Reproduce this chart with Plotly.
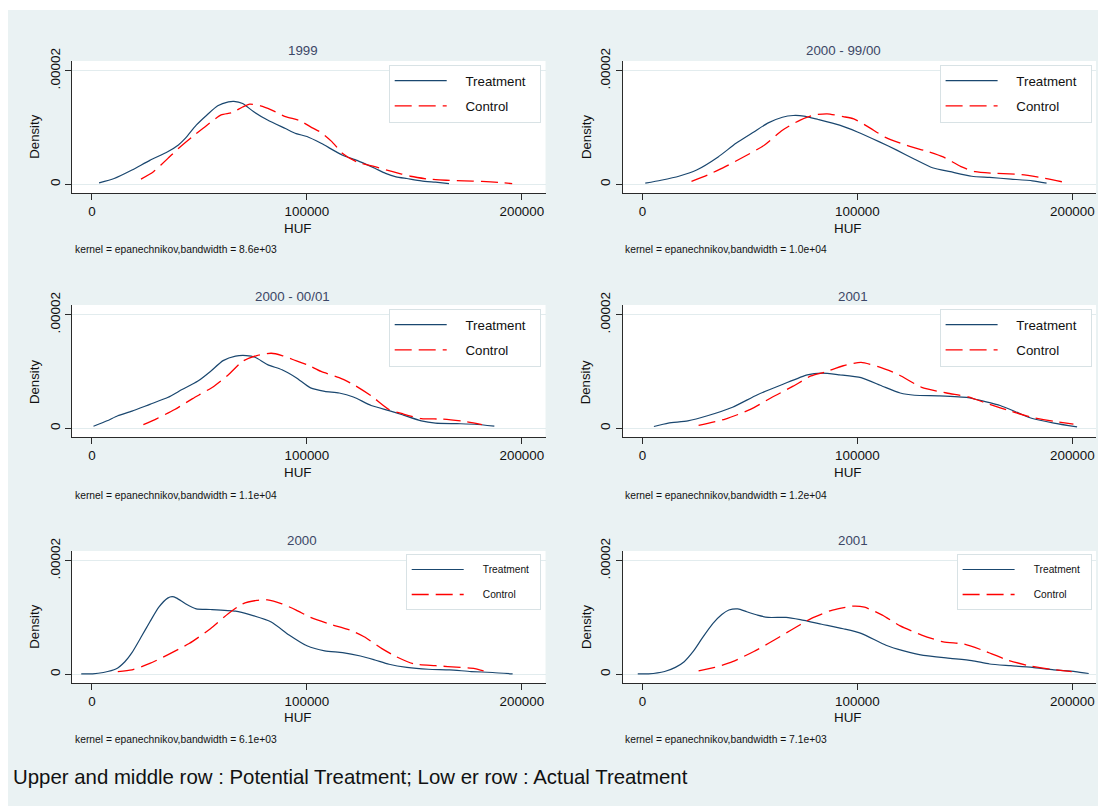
import plotly.graph_objects as go

W, H = 1098, 806

# ---------------- data ----------------
panel_titles = ["1999", "2000 - 99/00", "2000 - 00/01", "2001", "2000", "2001"]
bandwidths = ["8.6e+03", "1.0e+04", "1.1e+04", "1.2e+04", "6.1e+03", "7.1e+03"]
series_names = ["Treatment", "Control"]
x_tickvals = [0, 100000, 200000]
x_ticktext = ["0", "100000", "200000"]
y_tickvals = [0, 0.00002]
y_ticktext = ["0", ".00002"]
x_title = "HUF"
y_title = "Density"
footnote = "Upper and middle row : Potential Treatment; Low er row : Actual Treatment"

# Panel 1: 1999
p1_treat_x = [3300, 10300, 18600, 26900, 35200, 40200, 43500, 48500, 53500, 58500, 63500, 66000,
              70100, 75100, 81700, 90000, 95000, 100000, 106600, 116600, 123300, 131600, 136600,
              141500, 146500, 153200, 159800, 166100]
p1_treat_y = [0.24e-6, 1.0e-6, 2.5e-6, 4.2e-6, 5.7e-6, 6.9e-6, 8.1e-6, 10.4e-6, 12.2e-6, 13.8e-6,
              14.5e-6, 14.6e-6, 14.2e-6, 12.8e-6, 11.3e-6, 9.8e-6, 8.9e-6, 8.4e-6, 7.2e-6, 5.1e-6,
              4.2e-6, 2.8e-6, 1.9e-6, 1.3e-6, 1.0e-6, 0.6e-6, 0.35e-6, 0.1e-6]
p1_ctrl_x = [22800, 28600, 35200, 40200, 46800, 53500, 60100, 65100, 70100, 73400, 78400, 83400,
             90000, 96700, 101700, 106600, 111600, 116600, 123300, 131600, 139900, 148200, 156500,
             164800, 173100, 181400, 189700, 195500]
p1_ctrl_y = [0.9e-6, 2.2e-6, 4.5e-6, 6.3e-6, 8.4e-6, 10.4e-6, 12.2e-6, 12.6e-6, 13.6e-6, 14.1e-6,
             13.8e-6, 13.1e-6, 11.9e-6, 11.2e-6, 10.1e-6, 9.1e-6, 7.5e-6, 5.4e-6, 3.9e-6, 3.1e-6,
             2.2e-6, 1.4e-6, 0.9e-6, 0.7e-6, 0.6e-6, 0.5e-6, 0.3e-6, 0.1e-6]

# Panel 2: 2000 - 99/00
p2_treat_x = [1300, 8600, 16900, 25200, 35200, 43500, 51800, 58500, 65100, 70100, 75100, 81700,
              91700, 100000, 110000, 118300, 126600, 134900, 143200, 153200, 161500, 171400,
              181400, 188000]
p2_treat_y = [0.18e-6, 0.7e-6, 1.4e-6, 2.5e-6, 4.8e-6, 7.2e-6, 9.2e-6, 10.8e-6, 11.8e-6, 12.1e-6,
              12.0e-6, 11.4e-6, 10.4e-6, 9.2e-6, 7.5e-6, 6.0e-6, 4.4e-6, 2.9e-6, 2.2e-6, 1.4e-6,
              1.2e-6, 0.9e-6, 0.6e-6, 0.18e-6]
p2_ctrl_x = [22800, 30200, 38500, 48500, 56800, 65100, 73400, 80100, 85900, 93400, 98300, 105000,
             113300, 123300, 133200, 139900, 148200, 154800, 164800, 176400, 186400, 195500]
p2_ctrl_y = [0.5e-6, 1.6e-6, 3.1e-6, 5.1e-6, 6.9e-6, 9.5e-6, 11.3e-6, 12.2e-6, 12.4e-6, 11.9e-6,
             11.5e-6, 10.1e-6, 8.2e-6, 6.8e-6, 5.7e-6, 4.8e-6, 3.1e-6, 2.2e-6, 1.9e-6, 1.7e-6,
             1.1e-6, 0.4e-6]

# Panel 3: 2000 - 00/01
p3_treat_x = [700, 7000, 12000, 18600, 26900, 35200, 41900, 49300, 55100, 61000, 66800, 71800,
              75900, 81700, 88400, 95000, 101700, 108300, 115000, 121600, 129900, 138200, 144900,
              153200, 159800, 169800, 178100, 187200]
p3_treat_y = [0.35e-6, 1.3e-6, 2.2e-6, 3.0e-6, 4.2e-6, 5.4e-6, 6.8e-6, 8.3e-6, 10.0e-6, 11.9e-6,
              12.7e-6, 12.8e-6, 12.5e-6, 11.2e-6, 10.3e-6, 8.9e-6, 7.1e-6, 6.5e-6, 6.2e-6, 5.5e-6,
              4.0e-6, 3.1e-6, 2.3e-6, 1.3e-6, 0.9e-6, 0.8e-6, 0.7e-6, 0.35e-6]
p3_ctrl_x = [23900, 30200, 38500, 46800, 56800, 63500, 70100, 76700, 83400, 88400, 93400, 100000,
             106600, 115000, 121600, 129900, 138200, 144900, 153200, 163100, 173100, 181400]
p3_ctrl_y = [0.64e-6, 1.7e-6, 3.3e-6, 5.2e-6, 7.4e-6, 9.4e-6, 11.8e-6, 12.8e-6, 13.2e-6, 12.8e-6,
             12.1e-6, 11.2e-6, 10.0e-6, 8.9e-6, 7.7e-6, 5.7e-6, 3.3e-6, 2.5e-6, 1.7e-6, 1.6e-6,
             1.2e-6, 0.64e-6]

# Panel 4: 2001 (potential)
p4_treat_x = [5300, 12000, 21100, 30200, 41900, 53500, 65100, 76700, 83400, 91700, 101700, 111600,
              119900, 126600, 138200, 151500, 158100, 166400, 174800, 181400, 191400, 202200]
p4_treat_y = [0.3e-6, 0.9e-6, 1.3e-6, 2.2e-6, 3.7e-6, 5.9e-6, 7.7e-6, 9.4e-6, 9.7e-6, 9.4e-6,
              8.9e-6, 7.4e-6, 6.2e-6, 5.8e-6, 5.7e-6, 5.4e-6, 4.8e-6, 4.0e-6, 2.7e-6, 1.7e-6,
              0.9e-6, 0.23e-6]
p4_ctrl_x = [26100, 38500, 50200, 60100, 70100, 78400, 85000, 93400, 101700, 110000, 118300,
             129900, 141500, 151500, 161500, 171400, 181400, 191400, 200500]
p4_ctrl_y = [0.5e-6, 1.6e-6, 3.3e-6, 5.4e-6, 7.4e-6, 9.2e-6, 9.9e-6, 11.0e-6, 11.6e-6, 10.8e-6,
             9.6e-6, 7.2e-6, 6.2e-6, 5.5e-6, 4.2e-6, 3.0e-6, 1.9e-6, 1.2e-6, 0.7e-6]

# Panel 5: 2000 (actual)
p5_treat_x = [-5000, 300, 5300, 11100, 15300, 18600, 22800, 26900, 31100, 35200, 37300, 39400,
              43500, 48500, 55100, 66800, 73400, 83400, 91700, 100000, 108300, 116600, 124900,
              131600, 138200, 146500, 156500, 166400, 176400, 186400, 195700]
p5_treat_y = [0.06e-6, 0.06e-6, 0.3e-6, 0.9e-6, 2.2e-6, 3.8e-6, 6.5e-6, 9.2e-6, 11.8e-6, 13.4e-6,
              13.65e-6, 13.4e-6, 12.4e-6, 11.5e-6, 11.4e-6, 11.1e-6, 10.5e-6, 9.2e-6, 6.9e-6,
              5.0e-6, 4.1e-6, 3.8e-6, 3.2e-6, 2.5e-6, 1.75e-6, 1.2e-6, 0.87e-6, 0.76e-6, 0.47e-6,
              0.3e-6, 0.06e-6]
p5_ctrl_x = [12000, 18600, 26900, 35200, 45200, 55100, 63500, 70100, 76700, 81700, 88400, 95000,
             101700, 110000, 119900, 126600, 134900, 141500, 149800, 159800, 171400, 178100, 182200]
p5_ctrl_y = [0.47e-6, 0.76e-6, 1.9e-6, 3.4e-6, 5.4e-6, 8.0e-6, 10.7e-6, 12.4e-6, 13.0e-6, 13.1e-6,
             12.4e-6, 11.3e-6, 10.0e-6, 8.9e-6, 7.8e-6, 6.6e-6, 4.5e-6, 3.1e-6, 1.8e-6, 1.5e-6,
             1.2e-6, 1.0e-6, 0.6e-6]

# Panel 6: 2001 (actual)
p6_treat_x = [-2200, 2800, 10300, 15300, 19400, 23600, 27700, 32700, 36900, 40200, 44400, 48500,
              53500, 58500, 66800, 73400, 83400, 93400, 101700, 113300, 121600, 130700, 143200,
              153200, 161500, 171400, 181400, 191400, 201300, 207600]
p6_treat_y = [0.06e-6, 0.06e-6, 0.47e-6, 1.2e-6, 2.2e-6, 4.0e-6, 6.3e-6, 8.9e-6, 10.5e-6, 11.3e-6,
              11.5e-6, 11.0e-6, 10.4e-6, 10.0e-6, 10.0e-6, 9.6e-6, 8.8e-6, 8.0e-6, 7.2e-6, 5.1e-6,
              4.1e-6, 3.3e-6, 2.8e-6, 2.4e-6, 1.8e-6, 1.5e-6, 1.2e-6, 0.76e-6, 0.47e-6, 0.12e-6]
p6_ctrl_x = [26100, 33600, 41900, 51800, 58500, 68400, 78400, 88400, 98300, 103300, 111600, 119900,
             129900, 139900, 149800, 159800, 169800, 179700, 189700, 199700]
p6_ctrl_y = [0.6e-6, 1.2e-6, 2.2e-6, 4.0e-6, 5.4e-6, 7.6e-6, 9.8e-6, 11.3e-6, 12.0e-6, 11.8e-6,
             10.4e-6, 8.5e-6, 6.9e-6, 5.7e-6, 5.3e-6, 4.0e-6, 2.5e-6, 1.5e-6, 0.87e-6, 0.47e-6]

panels = [
    (p1_treat_x, p1_treat_y, p1_ctrl_x, p1_ctrl_y),
    (p2_treat_x, p2_treat_y, p2_ctrl_x, p2_ctrl_y),
    (p3_treat_x, p3_treat_y, p3_ctrl_x, p3_ctrl_y),
    (p4_treat_x, p4_treat_y, p4_ctrl_x, p4_ctrl_y),
    (p5_treat_x, p5_treat_y, p5_ctrl_x, p5_ctrl_y),
    (p6_treat_x, p6_treat_y, p6_ctrl_x, p6_ctrl_y),
]

# ---------------- styling / layout ----------------
FONT = "Liberation Sans, Arial, Helvetica, sans-serif"
BG = "#EAF2F3"
NAVY = "#1A476F"
RED = "#FF0000"
TXT = "#111111"
TITLE_C = "#3C4766"
AXIS_C = "#2A2A2A"
GRID_C = "#E2ECEE"
NBSP = "\u00a0"
THIN = "\u2009"


def fx(px):
    return px / W


def fy(py):
    return 1 - py / H


col_px = [(72.0, 545.5), (622.5, 1096.0)]
row_px = [(61.0, 193.0), (305.0, 437.0), (551.0, 683.0)]
x_range = [-9300, 211000]
y_range = [-1.55e-6, 2.17e-5]

title_pos = [(302.9, 51), (843.9, 51), (292.9, 296), (852.8, 296), (302.0, 540), (852.8, 540)]
huf_x = [297.5, 848.2]
huf_y = [228.3, 472.7, 717.3]
dens_x = [35.0, 586.3]
dens_y = [136.7, 382.0, 626.7]
note_x = [73.0, 623.4]
note_y = [250.0, 495.5, 739.5]
legend_right = [540.7, 1091.6]
legend_top = [64.5, 308.5, 554.0]

fig = go.Figure()
layout = dict(
    width=W, height=H, autosize=False,
    margin=dict(l=0, r=0, t=0, b=0, pad=0, autoexpand=False),
    paper_bgcolor=BG, plot_bgcolor="white",
    font=dict(family=FONT, color=TXT),
    showlegend=True,
)
annotations = []

for i, (tx, ty, cx, cy) in enumerate(panels):
    r, c = divmod(i, 2)
    n = i + 1
    xa = "x" if n == 1 else f"x{n}"
    ya = "y" if n == 1 else f"y{n}"
    lg = "legend" if n == 1 else f"legend{n}"
    small = r == 2
    lfs = 10.2 if small else 13.3
    if small:
        lead, trail = NBSP * 5, NBSP * 2
    else:
        lead, trail = NBSP * 3 + THIN, NBSP + THIN + THIN

    fig.add_trace(go.Scatter(
        x=tx, y=ty, mode="lines", name=lead + series_names[0] + trail,
        line=dict(color=NAVY, width=1.2, shape="spline", smoothing=0.6),
        xaxis=xa, yaxis=ya, legend=lg, legendgroup=f"t{n}", hoverinfo="skip"))
    fig.add_trace(go.Scatter(
        x=cx, y=cy, mode="lines", name=lead + series_names[1] + trail,
        line=dict(color=RED, width=1.3, dash="17px,7px", shape="spline", smoothing=0.6),
        xaxis=xa, yaxis=ya, legend=lg, legendgroup=f"c{n}", hoverinfo="skip"))

    xk = "xaxis" if n == 1 else f"xaxis{n}"
    yk = "yaxis" if n == 1 else f"yaxis{n}"
    layout[xk] = dict(
        domain=[fx(col_px[c][0]), fx(col_px[c][1])], anchor=ya, range=x_range,
        tickvals=x_tickvals, ticktext=x_ticktext, ticks="outside", ticklen=6, tickwidth=1,
        tickcolor=AXIS_C, showline=True, linecolor=AXIS_C, linewidth=1, showgrid=False,
        zeroline=False, tickfont=dict(size=13.4, color=TXT, family=FONT), fixedrange=True,
        automargin=False)
    layout[yk] = dict(
        domain=[fy(row_px[r][1]), fy(row_px[r][0])], anchor=xa, range=y_range,
        tickvals=y_tickvals, ticktext=y_ticktext, tickangle=-90, ticks="outside", ticklen=6,
        tickwidth=1, tickcolor=AXIS_C, showline=True, linecolor=AXIS_C, linewidth=1,
        showgrid=True, gridcolor=GRID_C, gridwidth=1, zeroline=False,
        tickfont=dict(size=13.6, color=TXT, family=FONT), fixedrange=True, automargin=False)
    layout[lg] = dict(
        x=fx(legend_right[c]), y=fy(legend_top[r]), xanchor="right", yanchor="top",
        xref="paper", yref="paper",
        bgcolor="white", bordercolor="#D8E2E5", borderwidth=1,
        font=dict(family=FONT, size=lfs, color=TXT),
        itemwidth=52, tracegroupgap=6 if small else 5, traceorder="grouped",
        itemclick=False, itemdoubleclick=False)

    # panel title
    annotations.append(dict(
        text=panel_titles[i], x=fx(title_pos[i][0]), y=fy(title_pos[i][1]),
        xref="paper", yref="paper", xanchor="center", yanchor="middle", showarrow=False,
        font=dict(family=FONT, size=13.3, color=TITLE_C)))
    # axis titles
    annotations.append(dict(
        text=x_title, x=fx(huf_x[c]), y=fy(huf_y[r]), xref="paper", yref="paper",
        xanchor="center", yanchor="middle", showarrow=False,
        font=dict(family=FONT, size=13.4, color=TXT)))
    annotations.append(dict(
        text=y_title, x=fx(dens_x[c]), y=fy(dens_y[r]), xref="paper", yref="paper",
        xanchor="center", yanchor="middle", showarrow=False, textangle=-90,
        font=dict(family=FONT, size=13.2, color=TXT)))
    # kernel note
    annotations.append(dict(
        text=f"kernel = epanechnikov,bandwidth = {bandwidths[i]}",
        x=fx(note_x[c]), y=fy(note_y[r]), xref="paper", yref="paper",
        xanchor="left", yanchor="middle", showarrow=False,
        font=dict(family=FONT, size=10.3, color=TXT)))

annotations.append(dict(
    text=footnote, x=fx(11), y=fy(777), xref="paper", yref="paper",
    xanchor="left", yanchor="middle", showarrow=False,
    font=dict(family=FONT, size=20.4, color=TXT)))

layout["annotations"] = annotations
layout["shapes"] = [
    dict(type="rect", xref="paper", yref="paper", x0=0, x1=1, y0=fy(10), y1=1,
         fillcolor="white", line=dict(width=0), layer="below"),
    dict(type="rect", xref="paper", yref="paper", x0=0, x1=fx(8), y0=0, y1=1,
         fillcolor="white", line=dict(width=0), layer="below"),
]

fig.update_layout(**layout)
fig.write_html(
    "out.html",
    config={"displayModeBar": False, "staticPlot": True},
    post_script=(
        "var gd=document.getElementById('{plot_id}');"
        "gd.style.position='fixed';gd.style.top='0px';gd.style.left='0px';gd.style.margin='0';"
        "document.documentElement.style.margin='0';document.documentElement.style.padding='0';"
        "document.documentElement.style.overflow='hidden';"
        "document.body.style.margin='0';document.body.style.padding='0';"
        "document.body.style.overflow='hidden';document.body.style.background='white';"
    ),
)
